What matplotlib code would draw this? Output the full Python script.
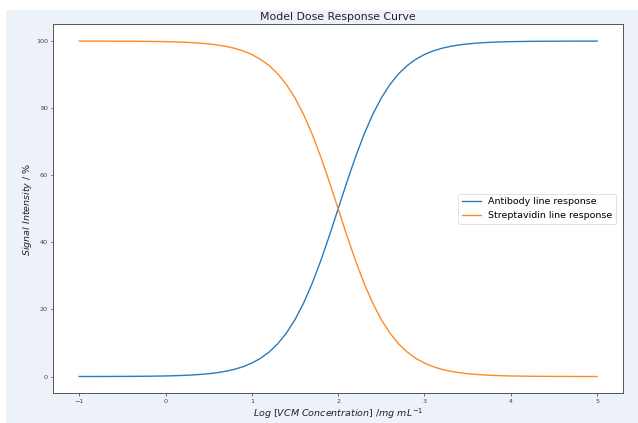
"""Model dose response curve: antibody vs streptavidin line signal."""

import numpy as np
import matplotlib
matplotlib.use("Agg")
import matplotlib.pyplot as plt
from matplotlib.patches import Rectangle


# ---------------------------------------------------------------------------
# Data
# ---------------------------------------------------------------------------

log_conc = np.round(np.linspace(-1.0, 5.0, 61), 1)

antibody = [
    0.01, 0.01, 0.01, 0.02, 0.03, 0.04, 0.05, 0.07, 0.09, 0.13,
    0.17, 0.24, 0.33, 0.45, 0.62, 0.84, 1.16, 1.58, 2.16, 2.94,
    4.00, 5.42, 7.29, 9.76, 12.94, 16.96, 21.91, 27.82, 34.63, 42.12,
    50.00,
    57.88, 65.37, 72.18, 78.09, 83.04, 87.06, 90.24, 92.71, 94.58, 96.00,
    97.06, 97.84, 98.42, 98.84, 99.16, 99.38, 99.55, 99.67, 99.76, 99.83,
    99.87, 99.91, 99.93, 99.95, 99.96, 99.97, 99.98, 99.99, 99.99, 99.99,
]

streptavidin = [
    99.99, 99.99, 99.99, 99.98, 99.97, 99.96, 99.95, 99.93, 99.91, 99.87,
    99.83, 99.76, 99.67, 99.55, 99.38, 99.16, 98.84, 98.42, 97.84, 97.06,
    96.00, 94.58, 92.71, 90.24, 87.06, 83.04, 78.09, 72.18, 65.37, 57.88,
    50.00,
    42.12, 34.63, 27.82, 21.91, 16.96, 12.94, 9.76, 7.29, 5.42, 4.00,
    2.94, 2.16, 1.58, 1.16, 0.84, 0.62, 0.45, 0.33, 0.24, 0.17,
    0.13, 0.09, 0.07, 0.05, 0.04, 0.03, 0.02, 0.01, 0.01, 0.01,
]

x_ticks = [-1, 0, 1, 2, 3, 4, 5]
y_ticks = [0, 20, 40, 60, 80, 100]

BG = "#edf1f8"


# ---------------------------------------------------------------------------
# Plot
# ---------------------------------------------------------------------------

fig = plt.figure(figsize=(6.38, 4.23), dpi=100, facecolor="white")
fig.patches.append(Rectangle((6 / 638, 0), 1, (423 - 10) / 423,
                             transform=fig.transFigure, facecolor=BG,
                             edgecolor="none", zorder=-10))

ax = fig.add_axes([53.3 / 638, 29.7 / 423, (623 - 53.3) / 638, (393.3 - 24.3) / 423])
ax.set_facecolor("white")

ax.plot(log_conc, antibody, color="#2b7bba", linewidth=1.0, label="Antibody line response")
ax.plot(log_conc, streptavidin, color="#ff8a24", linewidth=1.0, label="Streptavidin line response")

ax.set_xlim(-1.3, 5.3)
ax.set_ylim(-5, 105)
ax.set_xticks(x_ticks)
ax.set_yticks(y_ticks)
ax.tick_params(labelsize=4.6, length=1.8, width=0.6, pad=2,
               color="#555555", labelcolor="#444444")
for sp in ax.spines.values():
    sp.set_linewidth(0.7)
    sp.set_color("#555555")

ax.set_title("Model Dose Response Curve", fontsize=7.8, pad=3, color="#222222")
ax.set_xlabel(r"$Log\ [VCM\ Concentration]\ /mg\ mL^{-1}$", fontsize=6.8,
              labelpad=2, color="#222222")
ax.set_ylabel(r"$Signal\ Intensity\ /\ \%$", fontsize=6.8, labelpad=1.5, color="#222222")

leg = ax.legend(loc="center right", fontsize=6.8, frameon=True, borderaxespad=0.7)
leg.get_frame().set_linewidth(0.5)

fig.savefig("out.png", dpi=100, facecolor=fig.get_facecolor())
